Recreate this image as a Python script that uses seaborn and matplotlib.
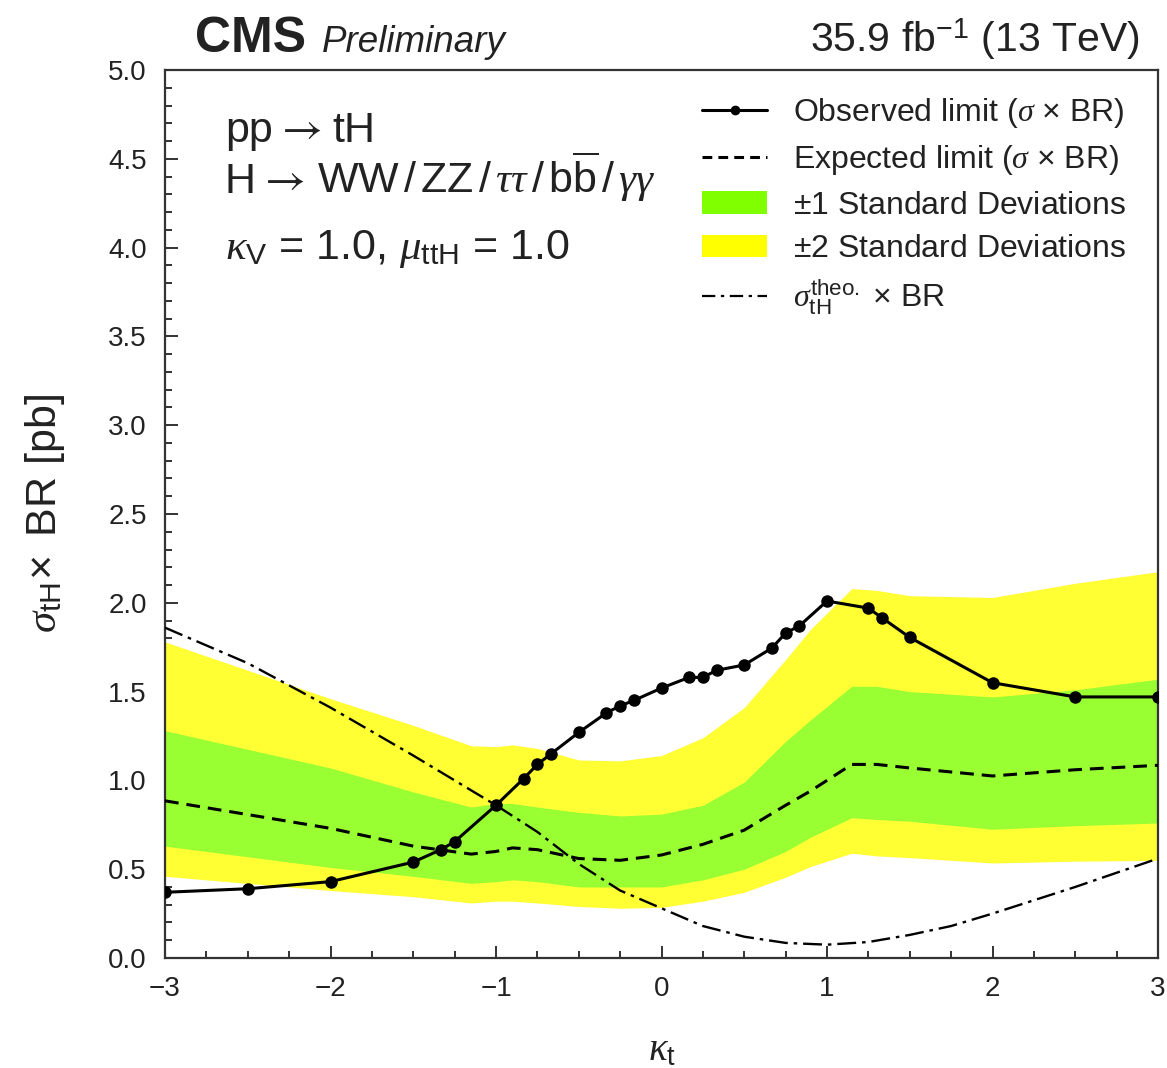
import numpy as np
import pandas as pd
import matplotlib
matplotlib.use("Agg")
import matplotlib.pyplot as plt
from matplotlib.lines import Line2D
from matplotlib.patches import Patch
import seaborn as sns

# ---------------- data ----------------
kt_obs = [-3.0, -2.5, -2.0, -1.5, -1.333, -1.25, -1.0, -0.833, -0.75, -0.667,
          -0.5, -0.333, -0.25, -0.167, 0.0, 0.167, 0.25, 0.333, 0.5, 0.667,
          0.75, 0.833, 1.0, 1.25, 1.333, 1.5, 2.0, 2.5, 3.0]
obs_limit = [0.37, 0.39, 0.43, 0.54, 0.61, 0.655, 0.86, 1.01, 1.09, 1.15,
             1.27, 1.38, 1.42, 1.45, 1.52, 1.58, 1.58, 1.62, 1.65, 1.745,
             1.83, 1.87, 2.01, 1.97, 1.915, 1.805, 1.55, 1.47, 1.47]

kt_band = [-3.0, -2.0, -1.5, -1.15, -1.0, -0.9, -0.75, -0.5, -0.25, 0.0,
           0.25, 0.5, 0.75, 0.9, 1.15, 1.3, 1.5, 2.0, 2.5, 3.0]
exp_limit = [0.885, 0.73, 0.63, 0.585, 0.60, 0.62, 0.61, 0.56, 0.55, 0.58,
             0.64, 0.72, 0.86, 0.94, 1.09, 1.09, 1.07, 1.025, 1.06, 1.085]
sig1_up = [1.28, 1.07, 0.935, 0.85, 0.87, 0.87, 0.85, 0.82, 0.80, 0.81,
           0.86, 0.99, 1.22, 1.34, 1.53, 1.53, 1.50, 1.47, 1.51, 1.57]
sig1_dn = [0.63, 0.51, 0.46, 0.42, 0.43, 0.44, 0.43, 0.40, 0.40, 0.40,
           0.44, 0.50, 0.60, 0.68, 0.79, 0.78, 0.77, 0.725, 0.745, 0.76]
sig2_up = [1.78, 1.46, 1.31, 1.195, 1.19, 1.20, 1.18, 1.115, 1.11, 1.14,
           1.24, 1.41, 1.68, 1.85, 2.08, 2.07, 2.04, 2.03, 2.11, 2.175]
sig2_dn = [0.46, 0.38, 0.345, 0.31, 0.32, 0.32, 0.31, 0.29, 0.28, 0.285,
           0.32, 0.37, 0.455, 0.515, 0.59, 0.575, 0.565, 0.535, 0.545, 0.55]

kt_theo = [-3.0, -2.5, -2.0, -1.5, -1.0, -0.75, -0.5, -0.25, 0.0, 0.25,
           0.5, 0.75, 1.0, 1.25, 1.5, 1.75, 2.0, 2.5, 3.0]
theo_xsec = [1.86, 1.66, 1.41, 1.14, 0.86, 0.71, 0.53, 0.38, 0.28, 0.18,
             0.12, 0.085, 0.075, 0.09, 0.13, 0.18, 0.25, 0.40, 0.56]

x_ticks = [-3, -2, -1, 0, 1, 2, 3]
y_ticks = [0.0, 0.5, 1.0, 1.5, 2.0, 2.5, 3.0, 3.5, 4.0, 4.5, 5.0]

df_obs = pd.DataFrame({"kt": kt_obs, "limit": obs_limit})
df_band = pd.DataFrame({"kt": kt_band, "exp": exp_limit, "s1u": sig1_up,
                        "s1d": sig1_dn, "s2u": sig2_up, "s2d": sig2_dn})
df_theo = pd.DataFrame({"kt": kt_theo, "xsec": theo_xsec})

# ---------------- style ----------------
sns.set_style("ticks")
plt.rcParams["font.family"] = ["Liberation Sans", "DejaVu Sans"]
plt.rcParams["mathtext.fontset"] = "custom"
plt.rcParams["mathtext.rm"] = "Liberation Sans"
plt.rcParams["mathtext.sf"] = "Liberation Sans"
plt.rcParams["mathtext.it"] = "Liberation Serif:italic"
plt.rcParams["mathtext.bf"] = "Liberation Sans:bold"

W, H = 1167, 1068
fig = plt.figure(figsize=(W / 100, H / 100), dpi=100)
renderer = fig.canvas.get_renderer()
L, R, T, B = 165, 1158, 70, 958
ax = fig.add_axes([L / W, 1 - B / H, (R - L) / W, (B - T) / H])

GREEN = "#99ff33"
YELLOW = "#ffff33"
TXT = "#222222"

ax.fill_between(df_band["kt"], df_band["s2d"], df_band["s2u"], color=YELLOW, lw=0, zorder=1)
ax.fill_between(df_band["kt"], df_band["s1d"], df_band["s1u"], color=GREEN, lw=0, zorder=2)

sns.lineplot(data=df_band, x="kt", y="exp", ax=ax, color="black", lw=2.2,
             linestyle=(0, (4.5, 2.6)), zorder=3, legend=False)
sns.lineplot(data=df_theo, x="kt", y="xsec", ax=ax, color="black", lw=1.7,
             linestyle=(0, (8, 2.5, 1.5, 2.5)), zorder=4, legend=False)
sns.lineplot(data=df_obs, x="kt", y="limit", ax=ax, color="black", lw=2.2,
             marker="o", markersize=9, markeredgewidth=0, zorder=5, legend=False)

ax.set_xlim(-3, 3)
ax.set_ylim(0, 5)
ax.set_xticks(x_ticks)
ax.set_xticklabels([f"{v:d}".replace("-", "\u2212") for v in x_ticks])
ax.set_yticks(y_ticks)
ax.set_yticklabels([f"{v:.1f}" for v in y_ticks])
ax.xaxis.set_minor_locator(matplotlib.ticker.MultipleLocator(0.25))
ax.yaxis.set_minor_locator(matplotlib.ticker.MultipleLocator(0.1))
ax.tick_params(which="both", direction="in", colors="#333333", width=1.4)
ax.tick_params(which="major", length=9, labelsize=20, pad=13, labelcolor=TXT)
ax.tick_params(which="minor", length=5)
for s in ax.spines.values():
    s.set_linewidth(1.6)
    s.set_color("#333333")

ax.set_xlabel(r"$\kappa_{\rm t}$", fontsize=28, color=TXT)
ax.xaxis.set_label_coords(0.5, (B - 1050) / (B - T))
ax.xaxis.label.set_va("center")
ax.set_ylabel(r"$\sigma_{\rm tH}\!\times$ BR [pb]", fontsize=31, color=TXT)
ax.yaxis.label.set_va("center")
ax.yaxis.set_label_coords((45 - L) / (R - L), 0.5)


def chain(x_px, y_px, parts, size):
    """Write text pieces one after another on a common baseline (pixels)."""
    x = x_px
    for s, fam, fs, gap in parts:
        kw = {} if fam is None else {"family": fam}
        t = fig.text(x / W, 1 - y_px / H, s, fontsize=fs or size, va="baseline",
                     ha="left", color=TXT, **kw)
        x += t.get_window_extent(renderer).width + gap


SZ = 31
ARW = "STIXGeneral"
chain(225, 142, [("pp", None, None, 9), ("\u2192", ARW, 32, 9), ("tH", None, None, 0)], SZ)
chain(225, 193, [("H", None, None, 9), ("\u2192", ARW, 32, 11),
                 (r"WW$\,/\,$ZZ$\,/\,\tau\tau\,/\,$b$\overline{\mathrm{b}}\,/\,\gamma\gamma$", None, None, 0)], SZ)
chain(225, 259, [(r"$\kappa_{\rm V}$ = 1.0, $\mu_{\rm ttH}$ = 1.0", None, None, 0)], SZ)

# header
fig.text(195 / W, 1 - 52 / H, "CMS", fontsize=36, fontweight="bold", ha="left", va="baseline", color=TXT)
fig.text(322 / W, 1 - 52 / H, "Preliminary", fontsize=26.5, fontstyle="italic", ha="left", va="baseline", color=TXT)
fig.text(1140 / W, 1 - 52 / H, r"35.9 fb$^{-1}$ (13 TeV)", fontsize=29.5, ha="right", va="baseline", color=TXT)

# legend
handles = [
    Line2D([], [], color="black", lw=2.2, marker="o", markersize=7, markeredgewidth=0),
    Line2D([], [], color="black", lw=2.2, linestyle=(0, (3.2, 2.0))),
    Patch(facecolor="#80ff00", edgecolor="none"),
    Patch(facecolor="#ffff00", edgecolor="none"),
    Line2D([], [], color="black", lw=1.6, linestyle=(0, (6, 2.5, 1.5, 2.5))),
]
labels = [
    r"Observed limit ($\sigma$ $\times$ BR)",
    r"Expected limit ($\sigma$ $\times$ BR)",
    r"$\pm$1 Standard Deviations",
    r"$\pm$2 Standard Deviations",
    r"$\sigma_{\rm tH}^{\rm theo.}$ $\times$ BR",
]
leg = ax.legend(handles, labels, loc="upper left", bbox_to_anchor=((702 - L) / (R - L), (B - 96) / (B - T)),
                frameon=False, fontsize=23, borderpad=0, borderaxespad=0,
                handlelength=2.05, handleheight=0.7, handletextpad=0.8, labelspacing=0.42)
for t in leg.get_texts():
    t.set_color(TXT)

fig.savefig("out.png", dpi=100)
